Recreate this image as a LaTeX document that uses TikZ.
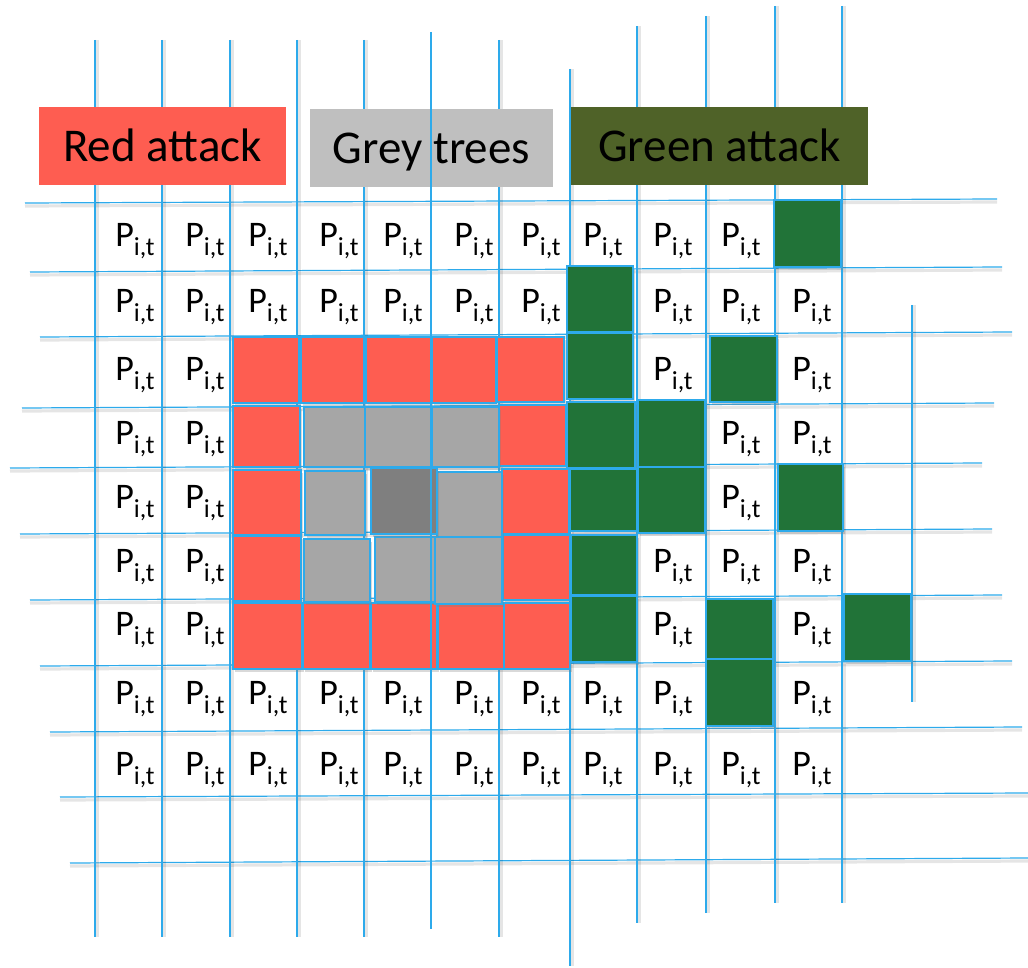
\documentclass[tikz,border=0pt]{standalone}
\usepackage{fontspec}
\setmainfont{Carlito}
\usetikzlibrary{shadows}

\definecolor{gridblue}{RGB}{45,170,235}
\definecolor{attackred}{RGB}{254,93,81}
\definecolor{attackgreen}{RGB}{33,115,56}
\definecolor{treegrey}{RGB}{166,166,166}
\definecolor{treedark}{RGB}{127,127,127}
\definecolor{labelgrey}{RGB}{191,191,191}
\definecolor{labelgreen}{RGB}{79,98,40}

\tikzset{
  gridline/.style={gridblue, line width=0.6pt},
  gridshadow/.style={black, opacity=0.10, line width=1.6pt},
  cellbox/.style={draw=gridblue, line width=1.1pt,
    drop shadow={shadow xshift=1pt, shadow yshift=-1.5pt, opacity=0.3}},
  legend/.style={minimum width=#1, minimum height=39pt, inner sep=0pt,
    text height=15.1pt, text depth=0pt, font=\fontsize{23.5}{28}\selectfont},
  pcell/.style={inner sep=0pt, anchor=base, font=\fontsize{18}{20}\selectfont},
}
\newcommand{\subit}{\raisebox{-4.5pt}{\fontsize{13}{13}\selectfont i,t}}

\begin{document}
\begin{tikzpicture}[x=0.5pt,y=-0.5pt]
  \useasboundingbox (0,0) rectangle (1028,968);

  % horizontal grid lines (slightly tilted)
  \foreach \xa/\ya/\xb/\yb in {25/203/997/199, 30/272/1002/267, 40/337/1012/332,
      22/408/994/403, 10/468/982/463, 20/534/992/529, 30/600/1002/595,
      40/666/1012/661, 50/732/1022/727, 60/797/1028/793, 70/863/1028/858} {
    \draw[gridshadow] (\xa,{\ya+3}) -- (\xb,{\yb+3});
    \draw[gridline] (\xa,\ya) -- (\xb,\yb);
  }

  % vertical grid lines
  \foreach \x/\ya/\yb in {95/40/937, 162/40/937, 230/40/937, 297/40/937,
      364/40/937, 499/40/937, 570/69/966, 637/26/923, 706/16/913,
      775/6/903, 842/6/903, 912/305/702} {
    \draw[gridshadow] ({\x+2},\ya) -- ({\x+2},\yb);
    \draw[gridline] (\x,\ya) -- (\x,\yb);
  }

  % legend boxes
  \node[legend=123.5pt, fill=attackred] (redlabel) at (162.5,146) {Red attack};
  \node[legend=121.5pt, fill=labelgrey] (greylabel) at (431.5,148) {Grey trees};
  \node[legend=148.5pt, fill=labelgreen] (greenlabel) at (719.5,146) {Green attack};

  % red attack ring
  \foreach \xa/\ya/\xb/\yb in {233/337/299/403, 301/337/364/403, 366/337/431/403,
      432/337/496/403, 497/337/564/402, 233/406/300/467, 499/405/566/466,
      233/470/301/535, 502/469/569/534, 233/536/301/601, 503/535/570/600,
      233/603/302/669, 303/603/370/669, 371/603/437/669, 438/603/504/669,
      504/603/570/669}
    \filldraw[cellbox, fill=attackred] (\xa,\ya) rectangle (\xb,\yb);

  % grey trees
  \foreach \xa/\ya/\xb/\yb in {304/407/365/467, 365/407/431/467, 432/407/499/467,
      305/471/365/535, 437/472/502/537, 304/539/370/602, 375/537/435/602,
      435/537/502/604}
    \filldraw[cellbox, fill=treegrey] (\xa,\ya) rectangle (\xb,\yb);
  \filldraw[cellbox, fill=treedark] (371,468) rectangle (437,534);

  % green attack
  \foreach \xa/\ya/\xb/\yb in {774/200/841/267, 567/266/633/332, 567/333/633/399,
      710/336/777/402, 567/402/635/468, 638/400/705/467, 570/469/637/531,
      638/467/705/533, 778/464/843/531, 571/535/637/595, 571/596/637/662,
      706/599/773/659, 844/594/911/661, 706/659/773/726}
    \filldraw[cellbox, fill=attackgreen] (\xa,\ya) rectangle (\xb,\yb);

  % this line runs over everything
  \draw[gridline] (431,32) -- (431,929);

  % cell values
  \def\colx{{135,205,268,339,403,474,541,603,673,741,812}}
  \foreach \r/\yb/\cs in {1/247/{1,2,3,4,5,6,7,8,9,10}, 2/313/{1,2,3,4,5,6,7,9,10,11},
      3/380/{1,2,9,11}, 4/444/{1,2,10,11}, 5/508/{1,2,10}, 6/572/{1,2,9,10,11},
      7/635/{1,2,9,11}, 8/704/{1,2,3,4,5,6,7,8,9,11},
      9/775/{1,2,3,4,5,6,7,8,9,10,11}} {
    \foreach \c in \cs {
      \pgfmathsetmacro{\xc}{\colx[\c-1]}
      \node[pcell] (p-\r-\c) at (\xc,\yb) {P\subit};
    }
  }
\end{tikzpicture}
\end{document}
